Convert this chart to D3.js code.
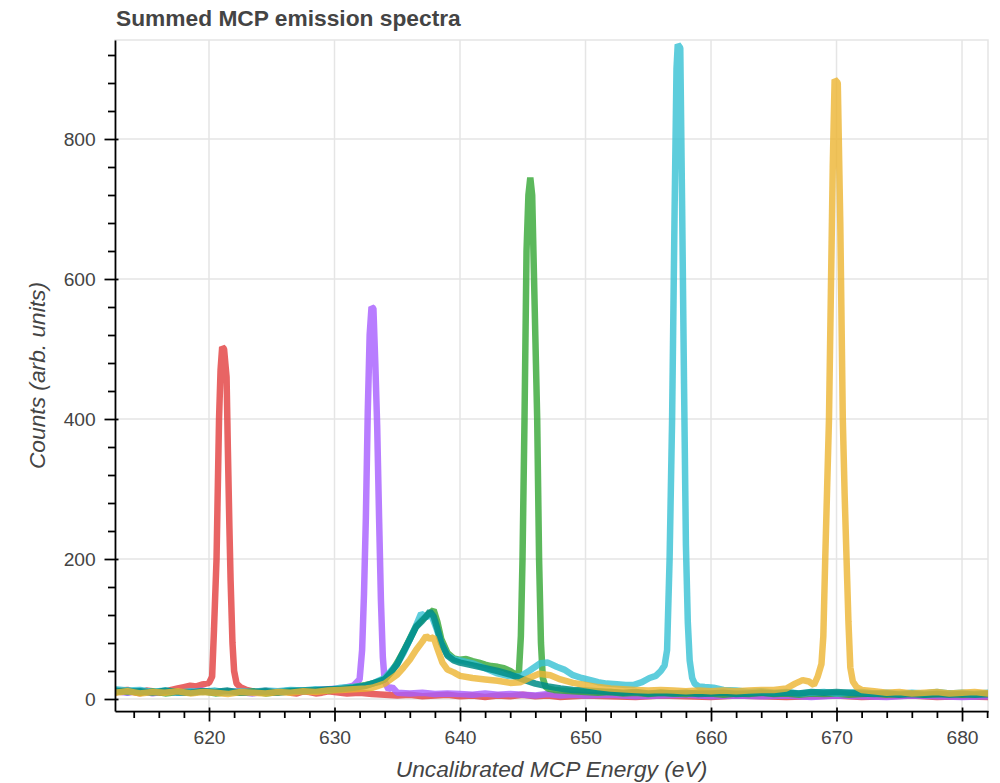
<!DOCTYPE html>
<html>
<head>
<meta charset="utf-8">
<script src="https://cdn.jsdelivr.net/npm/d3@7"></script>
<style>
  html, body { margin: 0; padding: 0; background: #fff; }
  svg { display: block; }
  text { font-family: "Liberation Sans", Arial, Helvetica, sans-serif; fill: #444; }
</style>
</head>
<body>
<svg id="chart" width="1000" height="783"></svg>
<script>
// Summed MCP emission spectra: [energy (eV), counts] per spectrum
const redSpectrum = [
  [612.5,9],[613,12],[613.5,13],[614,10],[614.5,8],[615,12],[615.5,11],[616,9],[616.5,10],[617,13],[617.5,15],[618,17],[618.5,19],[619,18],[619.5,21],
  [620,23],[620.25,32],[620.4,100],[620.6,200],[620.8,400],[620.92,470],[621.05,503],[621.2,500],[621.3,480],
  [621.4,460],[621.5,360],[621.62,250],[621.72,170],[621.87,80],[622,40],[622.2,22],[622.5,17],[623,13],[623.5,11],[624,10],
  [624.5,12],[625,9],[625.5,10],[626,11],[626.5,9],[627,8],[627.5,11],[628,10],[628.5,8],[629,9],[629.5,11],[630,10],[630.5,9],[631,8],[632,9],[633,7],[634,6],[635,5],[636,6],[637,4],
  [638,5],[639,6],[640,4],[641,5],[642,3],[643,5],[644,4],[645,6],[646,4],[647,5],[648,3],[649,4],[650,5],
  [652,4],[654,3],[656,5],[658,4],[660,3],[662,5],[664,4],[666,3],[668,4],[670,5],[672,3],[674,4],[676,5],
  [678,3],[680,4],[682.1,3]
];
const purpleSpectrum = [
  [612.5,11],[613.5,9],[614.5,12],[615.5,8],[616.5,11],[617.5,9],[618.5,10],[619.5,12],[620.5,9],[621.5,11],
  [622.5,10],[623.5,8],[624.5,11],[625.5,10],[626.5,12],[627.5,11],[628.5,13],[629.5,14],[630.5,15],[631,17],
  [631.5,19],[632,28],[632.2,70],[632.35,150],[632.5,260],[632.65,410],[632.8,520],[632.95,560],[633.1,558],
  [633.25,480],[633.4,390],[633.55,260],[633.7,140],[633.85,60],[634,25],[634.3,14],[634.6,17],[635,9],[636,8],
  [637,9],[638,7],[639,8],[640,7],[641,6],[642,8],[643,6],[644,7],[645,6],[646,5],[647,7],[648,5],[649,6],
  [650,5],[652,6],[654,4],[656,5],[658,6],[660,4],[662,5],[664,4],[666,5],[668,3],[670,5],[672,4],[674,3],
  [676,5],[678,4],[680,3],[682.1,4]
];
const greenSpectrum = [
  [612.5,10],[613.5,12],[614.5,9],[615.5,11],[616.5,8],[617.5,10],[618.5,9],[619.5,11],[620.5,8],[621.5,10],
  [622.5,9],[623.5,11],[624.5,8],[625.5,10],[626.5,12],[627.5,11],[628.5,13],[629.5,12],[630.5,15],[631.5,17],
  [632.5,20],[633.5,24],[634,28],[634.5,38],[635,52],[635.5,68],[636,86],[636.5,104],[637,114],[637.5,121],
  [637.9,127],[638.2,110],[638.5,86],[639,66],[639.5,58],[640,56],[640.5,57],[641,54],[641.5,52],[642,49],
  [642.5,47],[643,46],[643.5,44],[644,40],[644.5,34],[644.7,40],[644.85,90],[644.98,200],[645.14,400],
  [645.3,640],[645.45,720],[645.6,745],[645.75,720],[645.9,600],[646.05,480],[646.15,400],[646.3,200],
  [646.45,80],[646.6,30],[646.8,18],[647,15],[647.5,13],[648,12],[649,11],[650,10],[651,9],[652,10],[653,8],
  [654,9],[655,7],[656,9],[657,8],[658,7],[659,9],[660,8],[661,6],[662,8],[663,7],[664,9],[665,7],[666,8],
  [667,6],[668,8],[669,7],[670,8],[671,6],[672,7],[673,8],[674,6],[675,7],[676,8],[677,6],[678,7],[679,8],
  [680,6],[681,7],[682.1,8]
];
const cyanSpectrum = [
  [612.5,14],[613.5,12],[614.5,13],[615.5,10],[616.5,12],[617.5,9],[618.5,11],[619.5,10],[620.5,12],[621.5,9],
  [622.5,11],[623.5,10],[624.5,12],[625.5,11],[626.5,13],[627.5,12],[628.5,14],[629.5,13],[630.5,16],[631.5,17],
  [632.5,19],[633,22],[634,30],[635,50],[635.5,66],[636,85],[636.5,105],[636.9,122],[637.3,117],[637.7,121],
  [638.1,102],[638.5,80],[639,63],[639.5,57],[640,55],[641,51],[642,44],[642.9,37],[643.8,33],[644.8,32],
  [645.5,40],[646.4,51],[647,52],[647.7,46],[648.3,42],[649,34],[649.7,30],[650.4,27],[651,24],[651.7,22],
  [652.5,21],[653.2,20],[653.8,20],[654.5,24],[655.1,30],[655.6,33],[656,40],[656.3,48],[656.5,70],[656.7,200],
  [656.9,400],[657.1,700],[657.25,900],[657.35,935],[657.55,930],[657.7,700],[657.85,450],[658,220],[658.15,110],
  [658.3,55],[658.5,30],[658.7,22],[659,18],[659.5,17],[660.2,16],[661,13],[662,12],[663,10],[664,11],[665,9],
  [666,10],[667,8],[668,9],[669,10],[670,8],[671,9],[672,10],[673,8],[674,9],[675,7],[676,9],[677,8],[678,10],
  [679,8],[680,9],[681,7],[682.1,9]
];
const tealSpectrum = [
  [612.5,12],[613.5,10],[614.5,11],[615.5,9],[616.5,12],[617.5,10],[618.5,9],[619.5,11],[620.5,10],[621.5,12],
  [622.5,9],[623.5,10],[624.5,11],[625.5,9],[626.5,11],[627.5,12],[628.5,12],[629.5,14],[630.5,14],[631.5,16],
  [632.5,19],[633,22],[634,28],[634.5,38],[635,50],[635.5,68],[636,85],[636.5,103],[637,112],[637.3,118],
  [637.6,125],[637.9,118],[638.2,100],[638.5,80],[639,62],[639.5,55],[640,52],[641,48],[642,44],[643,40],
  [644,35],[645,28],[646,22],[647,18],[648,15],[649,13],[650,12],[651,11],[652,10],[653,9],[654,10],[655,8],
  [656,9],[657,8],[658,9],[659,7],[660,8],[661,9],[662,7],[663,8],[664,9],[665,8],[666,9],[667,8],[668,10],
  [669,9],[670,10],[671,9],[672,8],[673,7],[674,8],[675,6],[676,7],[677,6],[678,7],[679,6],[680,7],[681,6],
  [682.1,7]
];
const yellowSpectrum = [
  [612.5,9],[613.5,11],[614.5,8],[615.5,10],[616.5,9],[617.5,11],[618.5,8],[619.5,10],[620.5,9],[621.5,7],
  [622.5,10],[623.5,9],[624.5,8],[625.5,10],[626.5,9],[627.5,11],[628.5,10],[629.5,12],[630.5,13],[631.5,14],
  [632.5,15],[633,16],[634,22],[635,35],[635.5,45],[636,56],[636.5,70],[637,82],[637.3,90],[637.6,86],
  [637.9,88],[638.2,72],[638.6,52],[639,42],[639.5,38],[640,33],[641,30],[642,28],[643,26],[644,23],
  [644.8,24],[645.5,30],[646.3,36],[647.2,34],[648,28],[649,23],[650,20],[651,17],[652,15],[653,14],[654,13],
  [655,12],[656,13],[657,12],[658,11],[659,12],[660,11],[661,12],[662,11],[663,12],[664,13],[665,13],[666,15],
  [666.7,22],[667.3,27],[667.8,25],[668.2,20],[668.5,32],[668.8,50],[668.95,90],[669.1,200],[669.25,300],
  [669.4,400],[669.55,580],[669.7,760],[669.85,885],[670.1,880],[670.3,680],[670.5,400],[670.65,290],
  [670.8,200],[670.95,110],[671.1,45],[671.3,25],[671.6,17],[672,13],[673,11],[674,9],[675,10],[676,8],
  [677,9],[678,10],[679,8],[680,9],[681,10],[682.1,8]
];

const seriesData = [redSpectrum, purpleSpectrum, greenSpectrum, cyanSpectrum, tealSpectrum, yellowSpectrum];
const seriesColors = ["#e23d3d", "#a65cff", "#33a633", "#36c1d3", "#008c86", "#ecb431"];
const seriesOpacity = [0.8, 0.8, 0.8, 0.8, 0.85, 0.8];

const xMajorTicks = [620, 630, 640, 650, 660, 670, 680];
const xMinorTicks = d3.range(614, 683, 2).filter(v => v % 10 !== 0);
const yMajorTicks = [0, 200, 400, 600, 800];
const yMinorTicks = d3.range(40, 941, 40).filter(v => v % 200 !== 0);

const chartTitle = "Summed MCP emission spectra";
const xLabel = "Uncalibrated MCP Energy (eV)";
const yLabel = "Counts (arb. units)";

// frame geometry
const frame = { left: 115, right: 988, top: 40, bottom: 711 };

const svg = d3.select("#chart");
svg.append("rect").attr("width", 1000).attr("height", 783).attr("fill", "#fff");

const x = d3.scaleLinear().domain([612.51, 682.07]).range([frame.left, frame.right]);
const y = d3.scaleLinear().domain([-17.14, 941.43]).range([frame.bottom, frame.top]);

// grid
const grid = svg.append("g").attr("stroke", "#e5e5e5").attr("stroke-width", 1.5);
grid.selectAll("line.gx").data(xMajorTicks).join("line")
  .attr("x1", d => x(d)).attr("x2", d => x(d))
  .attr("y1", frame.top).attr("y2", frame.bottom);
grid.selectAll("line.gy").data(yMajorTicks).join("line")
  .attr("x1", frame.left).attr("x2", frame.right)
  .attr("y1", d => y(d)).attr("y2", d => y(d));

// frame outline
svg.append("rect")
  .attr("x", frame.left).attr("y", frame.top)
  .attr("width", frame.right - frame.left).attr("height", frame.bottom - frame.top)
  .attr("fill", "none").attr("stroke", "#e5e5e5").attr("stroke-width", 1.5);

// spectra
svg.append("clipPath").attr("id", "frameClip").append("rect")
  .attr("x", frame.left).attr("y", frame.top)
  .attr("width", frame.right - frame.left).attr("height", frame.bottom - frame.top);

const line = d3.line().x(d => x(d[0])).y(d => y(d[1]));
svg.append("g").attr("clip-path", "url(#frameClip)")
  .selectAll("path").data(seriesData).join("path")
  .attr("d", line)
  .attr("fill", "none")
  .attr("stroke", (d, i) => seriesColors[i])
  .attr("stroke-opacity", (d, i) => seriesOpacity[i])
  .attr("stroke-width", 6.5)
  .attr("stroke-linejoin", "bevel");

// axes
const tickFont = "19.25px";
const xAxis = svg.append("g").attr("transform", `translate(0,${frame.bottom})`)
  .call(d3.axisBottom(x).tickValues(xMajorTicks).tickSize(10.5).tickSizeOuter(0).tickPadding(8.75).tickFormat(d3.format("d")));
xAxis.selectAll(".tick line").attr("y1", -3.5);
svg.append("g").attr("transform", `translate(0,${frame.bottom})`)
  .call(d3.axisBottom(x).tickValues(xMinorTicks).tickSize(7).tickFormat(""))
  .call(g => g.select(".domain").remove());

const yAxis = svg.append("g").attr("transform", `translate(${frame.left},0)`)
  .call(d3.axisLeft(y).tickValues(yMajorTicks).tickSize(10.5).tickSizeOuter(0).tickPadding(8.75).tickFormat(d3.format("d")));
yAxis.selectAll(".tick line").attr("x1", 3.5);
svg.append("g").attr("transform", `translate(${frame.left},0)`)
  .call(d3.axisLeft(y).tickValues(yMinorTicks).tickSize(7).tickFormat(""))
  .call(g => g.select(".domain").remove());

svg.selectAll(".domain").attr("stroke", "#000").attr("stroke-width", 1.75);
svg.selectAll(".tick line").attr("stroke", "#000").attr("stroke-width", 1.75);
svg.selectAll(".tick text")
  .attr("font-family", "Liberation Sans, Arial, Helvetica, sans-serif")
  .attr("font-size", tickFont).attr("fill", "#444");

// titles
svg.append("text").attr("x", 116).attr("y", 26)
  .attr("font-size", "22.75px").attr("font-weight", "bold").text(chartTitle);
svg.append("text").attr("x", (frame.left + frame.right) / 2).attr("y", 777)
  .attr("text-anchor", "middle").attr("font-size", "22.75px").attr("font-style", "italic").text(xLabel);
svg.append("text")
  .attr("transform", `translate(45,${(frame.top + frame.bottom) / 2}) rotate(-90)`)
  .attr("text-anchor", "middle").attr("font-size", "22.75px").attr("font-style", "italic").text(yLabel);
</script>
</body>
</html>
